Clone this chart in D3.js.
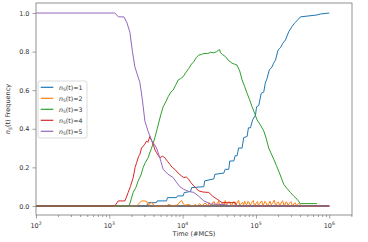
<!DOCTYPE html>
<html><head><meta charset="utf-8">
<script src="https://cdn.jsdelivr.net/npm/d3@7"></script>
<style>body{margin:0;background:#fff}svg{display:block;font-family:"DejaVu Sans",sans-serif}</style>
</head><body><svg id="c" width="368" height="242"></svg>
<script>
const labels = ["1","2","3","4","5"];
const colors = ["#1f77b4","#ff7f0e","#2ca02c","#d62728","#9467bd"];
const xTicks = [1e2,1e3,1e4,1e5,1e6];
const yTicks = [0,0.2,0.4,0.6,0.8,1.0];

const t1 = [100,3221,3388,4409,4500,6034,6200,8260,8500,10160,10500,12820,13300,19450,20000,26610,27500,36390,38000,42560,44000,49850,52000,55210,58000,64700,68000,75690,79000,84140,90000,98400,102000,109100,118000,127700,134000,141600,152000,165600,174000,184500,200000,215800,232000,252500,280000,310500,335000,363300,403800,679500,756400,1000000];
const v1 = [0,0,0.017,0.017,0.026,0.026,0.043,0.043,0.052,0.052,0.069,0.075,0.095,0.10,0.13,0.14,0.164,0.17,0.19,0.19,0.233,0.233,0.26,0.26,0.30,0.30,0.354,0.36,0.405,0.405,0.446,0.47,0.514,0.52,0.584,0.59,0.636,0.66,0.705,0.72,0.74,0.755,0.808,0.82,0.843,0.86,0.903,0.93,0.947,0.96,0.98,0.99,0.995,1.0,1.0];

const t2 = [100,2400,2500,2754,3000,3221,3357,3600,3802,4000,4178,6000,6500,7200,8500,9200,9700,10200,10800,12000,13500,15000,16000,17000,18000,19000,20000,21000,22000,23000,24000,25000,26000,27000,28000,29000,30000,31000,32000,33000,34000,35000,36500,38000,39500,41000,42500,44000,45500,47000,48500,50000,52000,54000,56000,58000,60000,62000,64000,66000,68000,70000,72500,75000,77500,80000,83000,86000,89000,92000,95000,98000,101000,105000,108000,112000,116000,120000,124000,128000,132000,137000,141000,146000,151000,156000,161000,167000,172000,178000,184000,190000,196000,203000,210000,217000,224000,232000,240000,248000,256000,265000,274000,283000,292000,302000,312000,322000,333000,344000,355000,367000,380000,392000,410000,1000000];
const v2 = [0,0,0.01,0.026,0.026,0.024,0.005,0.012,0.02,0.005,0,0,0.008,0,0.005,0.02,0.028,0.01,0.003,0.008,0,0.006,0.0,0.012,0.002,0.004,0.015,0.01,0.0,0.018,0.004,0.006,0.02,0.022,0.003,0.008,0.016,0.025,0.002,0.005,0.012,0.015,0.003,0.028,0.006,0.01,0.022,0.02,0.002,0.004,0.018,0.024,0.006,0.01,0.02,0.03,0.004,0.008,0.016,0.018,0.003,0.025,0.01,0.006,0.024,0.02,0.004,0.012,0.022,0.028,0.003,0.005,0.016,0.022,0.004,0.01,0.02,0.026,0.005,0.008,0.024,0.018,0.003,0.004,0.014,0.024,0.006,0.012,0.02,0.03,0.004,0.006,0.018,0.02,0.003,0.01,0.022,0.026,0.004,0.005,0.02,0.018,0.003,0.012,0.016,0.022,0.002,0.004,0.014,0.016,0.003,0.008,0.012,0.012,0,0];

const t3 = [100,1866,2116,2300,2477,2700,2898,3100,3388,3600,3768,4000,4178,4500,4784,5100,5423,5900,6342,6900,7424,8000,8689,9400,10160,11000,12140,13200,14210,15400,16630,18000,19450,22000,24000,26610,29000,31120,32000,32810,35000,38380,42000,47210,51000,55210,60000,64700,70000,75690,82000,88540,96000,103500,115000,127700,138000,149300,162000,174900,190000,204600,222000,239300,265000,295200,330000,363300,403800,679500];
const v3 = [0,0,0.07,0.095,0.13,0.16,0.2,0.225,0.25,0.28,0.30,0.33,0.354,0.40,0.44,0.48,0.514,0.54,0.566,0.59,0.60,0.625,0.653,0.66,0.67,0.69,0.713,0.735,0.748,0.77,0.782,0.785,0.79,0.79,0.796,0.794,0.8,0.808,0.81,0.794,0.785,0.774,0.755,0.74,0.735,0.73,0.70,0.653,0.62,0.584,0.55,0.514,0.48,0.446,0.42,0.389,0.35,0.30,0.27,0.242,0.21,0.18,0.145,0.112,0.09,0.07,0.05,0.035,0.012,0.012];

const t4 = [100,1191,1321,1632,1809,1938,2116,2250,2355,2500,2612,2750,2898,3050,3221,3357,3573,3750,3963,4200,4409,4650,4887,5300,5715,6200,6691,7200,7830,8700,9660,10380,11200,12140,13000,14210,15300,16630,19000,22740,25780,29510,34520,52600,54700,1000000];
const v4 = [0,0,0.026,0.026,0.07,0.10,0.147,0.2,0.224,0.255,0.268,0.3,0.31,0.32,0.337,0.33,0.36,0.34,0.32,0.29,0.276,0.262,0.25,0.258,0.25,0.232,0.216,0.2,0.19,0.17,0.155,0.147,0.15,0.138,0.12,0.104,0.09,0.078,0.072,0.07,0.05,0.035,0.017,0.017,0,0];

const t5 = [100,1191,1331,1581,1738,1910,2066,2234,2416,2612,2825,3055,3357,3768,4100,4409,4887,5423,6281,7424,8336,9160,10380,12140,14210,16630,19450,23990,32110,40000,43950,1000000];
const v5 = [1,1,0.98,0.98,0.95,0.90,0.80,0.72,0.68,0.64,0.55,0.44,0.39,0.34,0.32,0.30,0.25,0.19,0.165,0.147,0.12,0.10,0.086,0.075,0.07,0.05,0.026,0.01,0.008,0.005,0,0];

const times = [t1,t2,t3,t4,t5];
const vals = [v1,v2,v3,v4,v5];

const svg = d3.select("#c");
const L=36, R=352, T=3, B=215;
const x = d3.scaleLog().domain([100, Math.pow(10,6.31)]).range([L,R]);
const y = d3.scaleLinear().domain([-0.047,1.052]).range([B,T]);
const grey="#777";

svg.append("line").attr("x1",x(100)).attr("x2",x(1e6)).attr("y1",y(0)).attr("y2",y(0))
  .attr("stroke","#7a6e6e").attr("stroke-width",2);

const line = d3.line().x(d=>x(d[0])).y(d=>y(d[1]));
times.forEach((ts,i)=>{
  const pts = ts.map((t,j)=>[t,vals[i][j]]);
  svg.append("path").attr("d",line(pts)).attr("fill","none").attr("stroke",colors[i]).attr("stroke-width",1);
});
svg.append("line").attr("x1",x(100)).attr("x2",x(1e6)).attr("y1",y(0)).attr("y2",y(0))
  .attr("stroke","#7a6e6e").attr("stroke-width",1.2).attr("opacity",0.8);

svg.append("g").attr("transform",`translate(0,${B})`)
  .call(d3.axisBottom(x).tickValues(xTicks).tickFormat(()=>"").tickSize(3.5));
const minor=[];
for(let e=2;e<=6;e++) for(let k=2;k<=9;k++){const v=k*Math.pow(10,e); if(v<x.domain()[1]) minor.push(v);}
svg.append("g").attr("transform",`translate(0,${B})`)
  .call(d3.axisBottom(x).tickValues(minor).tickFormat(()=>"").tickSize(2));
svg.selectAll(".domain").remove();
svg.selectAll(".tick line").attr("stroke",grey).attr("stroke-width",0.7);
xTicks.forEach(v=>{
  const e=Math.round(Math.log10(v));
  const tx=svg.append("text").attr("x",x(v)).attr("y",B+13).attr("text-anchor","middle")
    .attr("font-size",6.5).attr("fill","#333");
  tx.append("tspan").text("10");
  tx.append("tspan").attr("dy",-3).attr("font-size",4.6).text(e);
});
const ya = svg.append("g").attr("transform",`translate(${L},0)`)
  .call(d3.axisLeft(y).tickValues(yTicks).tickFormat(d3.format(".1f")).tickSize(3.5));
ya.select(".domain").remove();
ya.selectAll(".tick line").attr("stroke",grey).attr("stroke-width",0.7);
ya.selectAll(".tick text").attr("font-size",6.5).attr("fill","#333").attr("font-family","DejaVu Sans");

svg.append("rect").attr("x",L).attr("y",T).attr("width",R-L).attr("height",B-T)
  .attr("fill","none").attr("stroke",grey).attr("stroke-width",0.8);

svg.append("text").attr("x",(L+R)/2).attr("y",236).attr("text-anchor","middle")
  .attr("font-size",6.5).attr("fill","#333").text("Time (#MCS)");
const yl = svg.append("text").attr("transform",`translate(10,${(T+B)/2}) rotate(-90)`)
  .attr("text-anchor","middle").attr("font-size",6.5).attr("fill","#333");
yl.append("tspan").attr("font-style","italic").text("n");
yl.append("tspan").attr("font-size",4.6).attr("dy",1.5).attr("font-style","italic").text("S");
yl.append("tspan").attr("dy",-1.5).text("(t) Frequency");

const lg = svg.append("g");
lg.append("rect").attr("x",38).attr("y",81).attr("width",49).attr("height",57).attr("rx",2)
  .attr("fill","#fff").attr("fill-opacity",0.85).attr("stroke","#ccc").attr("stroke-width",0.7);
labels.forEach((lab,i)=>{
  const yy=87.3+i*11;
  lg.append("line").attr("x1",40.7).attr("x2",53.3).attr("y1",yy).attr("y2",yy)
    .attr("stroke",colors[i]).attr("stroke-width",1.2);
  const t=lg.append("text").attr("x",59).attr("y",yy+2.3).attr("font-size",6.3).attr("fill","#333");
  t.append("tspan").attr("font-style","italic").text("n");
  t.append("tspan").attr("font-size",4.4).attr("dy",1.5).attr("font-style","italic").text("S");
  t.append("tspan").attr("dy",-1.5).text("(t)="+lab);
});
</script></body></html>
